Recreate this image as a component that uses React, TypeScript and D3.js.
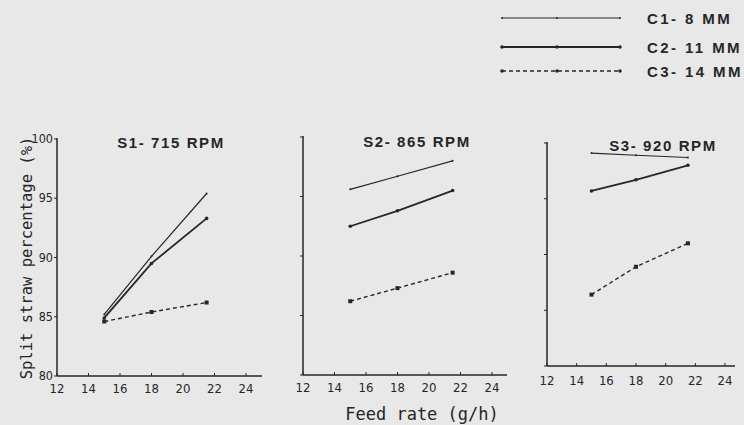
import { scaleLinear, line } from "d3";

// feed rate (g/h) at which each speed/concave setting was measured
const feedRate = [15, 18, 21.5];

const xTicks = [12, 14, 16, 18, 20, 22, 24];
const yTicks = [80, 85, 90, 95, 100];

const panelTitles = ["S1- 715 RPM", "S2- 865 RPM", "S3- 920 RPM"];
const seriesNames = ["C1- 8 MM", "C2- 11 MM", "C3- 14 MM"];

// split straw percentage (%)
const s1C1 = [85.2, 90.1, 95.4];
const s1C2 = [84.9, 89.5, 93.3];
const s1C3 = [84.6, 85.4, 86.2];

const s2C1 = [95.6, 96.7, 98.0];
const s2C2 = [92.5, 93.8, 95.5];
const s2C3 = [86.2, 87.3, 88.6];

const s3C1 = [99.1, 98.9, 98.7];
const s3C2 = [95.7, 96.7, 98.0];
const s3C3 = [86.4, 88.9, 91.0];

const panelData = [
  [s1C1, s1C2, s1C3],
  [s2C1, s2C2, s2C3],
  [s3C1, s3C2, s3C3],
];

// the scanned panels are not all the same size, so each gets its own box
const boxes = [
  { x12: 57, x24: 246, xEnd: 262, y80: 376, y100: 139, top: 138, titleX: 171, titleY: 148, tickY: 393, yLabels: true },
  { x12: 303, x24: 492, xEnd: 507, y80: 375, y100: 137, top: 136, titleX: 417, titleY: 147, tickY: 392, yLabels: false },
  { x12: 547, x24: 725, xEnd: 735, y80: 366, y100: 143, top: 142, titleX: 663, titleY: 151, tickY: 385, yLabels: false },
];

const ink = "#262626";
const tickFont = "'DejaVu Sans Condensed', 'Liberation Sans Narrow', sans-serif";
const boldFont = "'Liberation Sans', Arial, sans-serif";
const monoFont = "'DejaVu Sans Mono', monospace";

const styles = [
  { width: 1.2, dash: "none" },
  { width: 1.8, dash: "none" },
  { width: 1.4, dash: "4,3" },
];

function Marker({ kind, x, y }: { kind: number; x: number; y: number }) {
  if (kind === 2) {
    return <rect x={x - 2} y={y - 2} width={4} height={4} fill={ink} />;
  }
  return <circle cx={x} cy={y} r={kind === 0 ? 1 : 1.8} fill={ink} />;
}

function Panel({ index }: { index: number }) {
  const b = boxes[index];
  const x = scaleLinear().domain([12, 24]).range([b.x12, b.x24]);
  const y = scaleLinear().domain([80, 100]).range([b.y80, b.y100]);
  const path = line<number>()
    .x((_, i) => x(feedRate[i]))
    .y((d) => y(d));

  return (
    <g>
      <text
        x={b.titleX}
        y={b.titleY}
        textAnchor="middle"
        fontFamily={boldFont}
        fontWeight="bold"
        fontSize={15}
        letterSpacing={1.6}
        fill={ink}
      >
        {panelTitles[index]}
      </text>

      {/* axes */}
      <line x1={b.x12} x2={b.x12} y1={b.top} y2={b.y80} stroke={ink} strokeWidth={1.5} />
      <line x1={b.x12} x2={b.xEnd} y1={b.y80} y2={b.y80} stroke={ink} strokeWidth={1.5} />

      {xTicks.map((t) => (
        <g key={`xt-${t}`}>
          <line x1={x(t)} x2={x(t)} y1={b.y80} y2={b.y80 - 3} stroke={ink} strokeWidth={1} />
          <text x={x(t)} y={b.tickY} textAnchor="middle" fontFamily={tickFont} fontSize={13} fill={ink}>
            {t}
          </text>
        </g>
      ))}

      {yTicks.map((t) => (
        <g key={`yt-${t}`}>
          <line x1={b.x12 - 3} x2={b.x12} y1={y(t)} y2={y(t)} stroke={ink} strokeWidth={1} />
          {b.yLabels && (
            <text x={b.x12 - 4} y={y(t) + 4} textAnchor="end" fontFamily={tickFont} fontSize={12.5} fill={ink}>
              {t}
            </text>
          )}
        </g>
      ))}

      {panelData[index].map((values, s) => (
        <g key={`s-${s}`}>
          <path
            d={path(values) ?? ""}
            fill="none"
            stroke={ink}
            strokeWidth={styles[s].width}
            strokeDasharray={styles[s].dash}
          />
          {values.map((v, i) => (
            <Marker key={`m-${i}`} kind={s} x={x(feedRate[i])} y={y(v)} />
          ))}
        </g>
      ))}
    </g>
  );
}

function Legend() {
  const rows = [18, 47, 71];
  return (
    <g>
      {seriesNames.map((name, s) => (
        <g key={name}>
          <line
            x1={502}
            x2={620}
            y1={rows[s]}
            y2={rows[s]}
            stroke={ink}
            strokeWidth={styles[s].width}
            strokeDasharray={styles[s].dash}
          />
          {[502, 557, 620].map((mx) => (
            <Marker key={mx} kind={s === 2 ? 1 : s} x={mx} y={rows[s]} />
          ))}
          <text
            x={647}
            y={rows[s] + 6}
            fontFamily={boldFont}
            fontWeight="bold"
            fontSize={15}
            letterSpacing={2.4}
            fill={ink}
          >
            {name}
          </text>
        </g>
      ))}
    </g>
  );
}

export default function App() {
  return (
    <svg width={744} height={425} style={{ position: "absolute", left: 0, top: 0 }}>
      <rect width={744} height={425} fill="#e8e8e8" />
      <Legend />
      {boxes.map((_, i) => (
        <Panel key={`p-${i}`} index={i} />
      ))}
      <text
        transform="translate(32, 258) rotate(-90)"
        textAnchor="middle"
        fontFamily={monoFont}
        fontSize={15.5}
        fill={ink}
      >
        Split straw percentage (%)
      </text>
      <text x={422} y={420} textAnchor="middle" fontFamily={monoFont} fontSize={17} fill={ink}>
        Feed rate (g/h)
      </text>
    </svg>
  );
}
